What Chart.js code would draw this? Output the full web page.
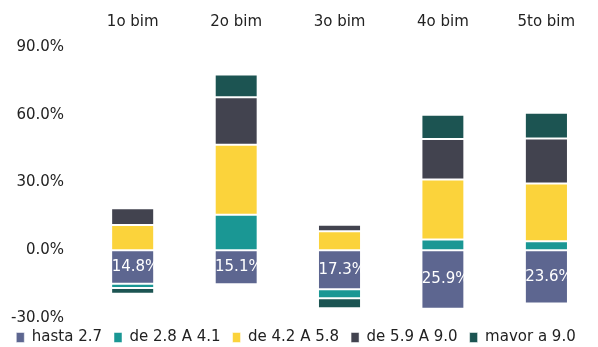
<!DOCTYPE html>
<html>
<head>
<meta charset="utf-8">
<script src="https://cdn.jsdelivr.net/npm/chart.js@4"></script>
<style>
  html, body { margin: 0; padding: 0; background: #fff; }
  #wrap { width: 598px; height: 347px; }
</style>
</head>
<body>
<div id="wrap"><canvas id="chart"></canvas></div>
<script>
// Datos (porcentajes)
const bimestres = ["1o bim", "2o bim", "3o bim", "4o bim", "5to bim"];
const hasta27 = [-14.8, -15.1, -17.3, -25.9, -23.6];
const de28a41 = [-1.9, 15.7, -4.0, 4.8, 4.0];
const de42a58 = [11.2, 31.0, 8.4, 26.5, 25.6];
const de59a90 = [7.4, 21.1, 2.9, 18.0, 19.9];
const mayor90 = [-2.6, 10.0, -4.4, 10.7, 11.4];
const yTicks = [-30, 0, 30, 60, 90];

const FONT = "'DejaVu Sans', sans-serif";

function serie(label, data, color) {
  return {
    label: label,
    data: data,
    backgroundColor: color,
    borderColor: "#ffffff",
    borderWidth: { top: 1, bottom: 1, left: 0, right: 0 },
    borderSkipped: false,
    categoryPercentage: 1,
    barPercentage: 0.4,
  };
}

// Etiquetas dentro de la barra "hasta 2.7"
const etiquetas = {
  id: "etiquetas",
  afterDatasetsDraw(chart) {
    const ctx = chart.ctx;
    const meta = chart.getDatasetMeta(0);
    ctx.save();
    ctx.font = "15px " + FONT;
    ctx.fillStyle = "#ffffff";
    ctx.textAlign = "center";
    ctx.textBaseline = "middle";
    meta.data.forEach((bar, i) => {
      const v = chart.data.datasets[0].data[i];
      ctx.fillText(v.toFixed(1) + "%", bar.x, (bar.y + bar.base) / 2);
    });
    ctx.restore();
  },
};

new Chart(document.getElementById("chart"), {
  type: "bar",
  data: {
    labels: bimestres,
    datasets: [
      serie("hasta 2.7", hasta27, "#5d6690"),
      serie("de 2.8 A 4.1", de28a41, "#1a9794"),
      serie("de 4.2 A 5.8", de42a58, "#fbd33b"),
      serie("de 5.9 A 9.0", de59a90, "#42434f"),
      serie("mavor a 9.0", mayor90, "#1c5452"),
    ],
  },
  options: {
    responsive: true,
    maintainAspectRatio: false,
    animation: false,
    layout: { padding: { top: -3, left: -6, right: 0, bottom: -8 } },
    scales: {
      x: {
        position: "top",
        stacked: true,
        grid: { display: false, drawTicks: false },
        border: { display: false },
        ticks: { color: "#222", font: { family: FONT, size: 15 }, padding: 16 },
      },
      y: {
        stacked: true,
        min: -30,
        max: 90,
        grid: { display: false, drawTicks: false },
        border: { display: false },
        afterBuildTicks: (axis) => {
          axis.ticks = yTicks.map((v) => ({ value: v }));
        },
        ticks: {
          color: "#222",
          font: { family: FONT, size: 15 },
          padding: 17,
          callback: (v) => v.toFixed(1) + "%",
        },
      },
    },
    plugins: {
      tooltip: { enabled: false },
      legend: {
        position: "bottom",
        labels: {
          color: "#222",
          font: { family: FONT, size: 15 },
          boxWidth: 8,
          boxHeight: 10,
          padding: 12,
        },
      },
    },
  },
  plugins: [etiquetas],
});
</script>
</body>
</html>
